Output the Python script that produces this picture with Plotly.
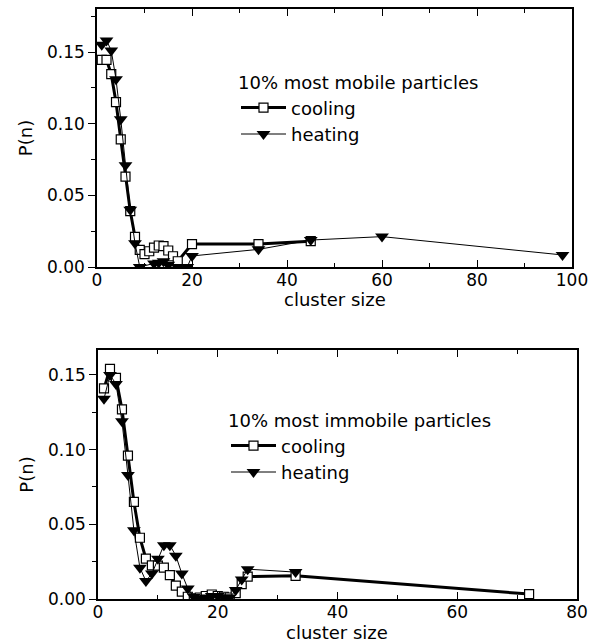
import plotly.graph_objects as go

# ---- top panel: 10% most mobile particles ----
top_cool_x = [1, 2, 3, 4, 5, 6, 7, 8, 9, 10, 11, 12, 13, 14, 15, 16, 17, 20, 34, 45]
top_cool_y = [0.1445, 0.1445, 0.1345, 0.115, 0.089, 0.063, 0.039, 0.021, 0.012, 0.009,
              0.011, 0.0135, 0.015, 0.0145, 0.0115, 0.0075, 0.004, 0.016, 0.016, 0.018]
top_heat_x = [1, 2, 3, 4, 5, 6, 7, 8, 9, 12, 13, 14, 15, 17, 19, 20, 34, 45, 60, 98]
top_heat_y = [0.155, 0.158, 0.151, 0.131, 0.103, 0.071, 0.040, 0.0165, 0.0, 0.0025,
              0.003, 0.004, 0.0015, 0.0, 0.0, 0.0077, 0.0123, 0.0188, 0.0212, 0.0084]

# ---- bottom panel: 10% most immobile particles ----
bot_cool_x = [1, 2, 3, 4, 5, 6, 7, 8, 9, 10, 11, 12, 13, 14, 15, 16, 17, 18, 19, 20,
              21, 22, 23, 24, 25, 33, 72]
bot_cool_y = [0.141, 0.154, 0.148, 0.127, 0.096, 0.065, 0.041, 0.027, 0.0225, 0.0223,
              0.021, 0.016, 0.009, 0.005, 0.0015, 0.0005, 0.001, 0.002, 0.003, 0.002,
              0.0015, 0.001, 0.004, 0.010, 0.015, 0.0155, 0.0033]
bot_heat_x = [1, 2, 3, 4, 5, 6, 7, 8, 9, 10, 11, 12, 13, 14, 15, 16, 17, 18, 19, 20,
              21, 22, 23, 24, 25, 33]
bot_heat_y = [0.134, 0.150, 0.144, 0.119, 0.083, 0.046, 0.021, 0.012, 0.017, 0.027,
              0.036, 0.036, 0.029, 0.017, 0.007, 0.0015, 0.0005, 0.001, 0.002, 0.002,
              0.001, 0.001, 0.006, 0.013, 0.020, 0.018]

top_title = "10% most mobile particles"
bot_title = "10% most immobile particles"
series_names = ["cooling", "heating"]
x_title = "cluster size"
y_title = "P(n)"

FONT = "DejaVu Sans"
sq = dict(symbol="square", size=9, color="white", line=dict(color="black", width=1.2))
tri = dict(symbol="triangle-down", size=12, color="black", line=dict(color="black", width=0))

fig = go.Figure()
fig.add_trace(go.Scatter(x=top_cool_x, y=top_cool_y, mode="lines+markers", name=series_names[0],
                         line=dict(color="black", width=3), marker=sq, xaxis="x", yaxis="y",
                         legend="legend"))
fig.add_trace(go.Scatter(x=top_heat_x, y=top_heat_y, mode="lines+markers", name=series_names[1],
                         line=dict(color="black", width=1), marker=tri, xaxis="x", yaxis="y",
                         legend="legend"))
fig.add_trace(go.Scatter(x=bot_cool_x, y=bot_cool_y, mode="lines+markers", name=series_names[0],
                         line=dict(color="black", width=3), marker=sq, xaxis="x2", yaxis="y2",
                         legend="legend2"))
fig.add_trace(go.Scatter(x=bot_heat_x, y=bot_heat_y, mode="lines+markers", name=series_names[1],
                         line=dict(color="black", width=1), marker=tri, xaxis="x2", yaxis="y2",
                         legend="legend2"))

W, H = 610, 644
def px(v): return v / W
def py(v): return 1 - v / H

tickfont = dict(family=FONT, size=17, color="black")
titlefont = dict(family=FONT, size=18, color="black")

def xax(dom, anchor, rng):
    return dict(domain=dom, anchor=anchor, range=rng, showgrid=False, zeroline=False,
                automargin=False, ticklabelstandoff=-3,
                showline=True, linecolor="black", linewidth=1.5, mirror="ticks",
                ticks="inside", ticklen=7, tickwidth=1, tickcolor="black", dtick=20, tick0=0,
                minor=dict(ticks="inside", ticklen=4, dtick=10, tickcolor="black"),
                tickfont=tickfont)

def yax(dom, anchor, rng):
    return dict(domain=dom, anchor=anchor, range=rng, showgrid=False, zeroline=False,
                automargin=False,
                showline=True, linecolor="black", linewidth=1.5, mirror=True,
                ticks="outside", ticklen=7, tickwidth=1, tickcolor="black", dtick=0.05, tick0=0,
                tickformat=".2f",
                minor=dict(ticks="outside", ticklen=4, dtick=0.025, tickcolor="black"),
                tickfont=tickfont, title=dict(text=y_title, font=titlefont, standoff=10))

def yright(over, anchor, rng):
    return dict(overlaying=over, anchor=anchor, side="right", range=rng, showgrid=False,
                automargin=False,
                zeroline=False, showline=False, showticklabels=False, ticks="inside",
                ticklen=7, tickcolor="black", dtick=0.05, tick0=0,
                minor=dict(ticks="inside", ticklen=7, dtick=0.025, tickcolor="black"))

fig.update_layout(
    width=W, height=H, margin=dict(l=0, r=0, t=0, b=0),
    paper_bgcolor="white", plot_bgcolor="white",
    xaxis=xax([px(97), px(572)], "y", [0, 100]),
    yaxis=yax([py(267), py(9)], "x", [0, 0.18]),
    xaxis2=xax([px(98), px(577)], "y2", [0, 80]),
    yaxis2=yax([py(599), py(350)], "x2", [0, 0.1667]),
    yaxis3=yright("y", "x", [0, 0.18]),
    yaxis4=yright("y2", "x2", [0, 0.1667]),
    legend=dict(x=px(236), y=py(66), xanchor="left", yanchor="top", bgcolor="rgba(0,0,0,0)",
                font=dict(family=FONT, size=18, color="black"), itemwidth=45,
                title=dict(text=top_title, font=dict(family=FONT, size=18, color="black"))),
    legend2=dict(x=px(226), y=py(404), xanchor="left", yanchor="top", bgcolor="rgba(0,0,0,0)",
                 font=dict(family=FONT, size=18, color="black"), itemwidth=45,
                 title=dict(text=bot_title, font=dict(family=FONT, size=18, color="black"))),
    annotations=[
        dict(text=x_title, xref="paper", yref="paper", x=px(335), y=py(299), xanchor="center",
             yanchor="middle", showarrow=False, font=titlefont),
        dict(text=x_title, xref="paper", yref="paper", x=px(337), y=py(632), xanchor="center",
             yanchor="middle", showarrow=False, font=titlefont),
    ],
)

fig.write_html("out.html", config={"displayModeBar": False},
               post_script="document.body.style.margin='0';document.body.style.overflow='hidden';")
